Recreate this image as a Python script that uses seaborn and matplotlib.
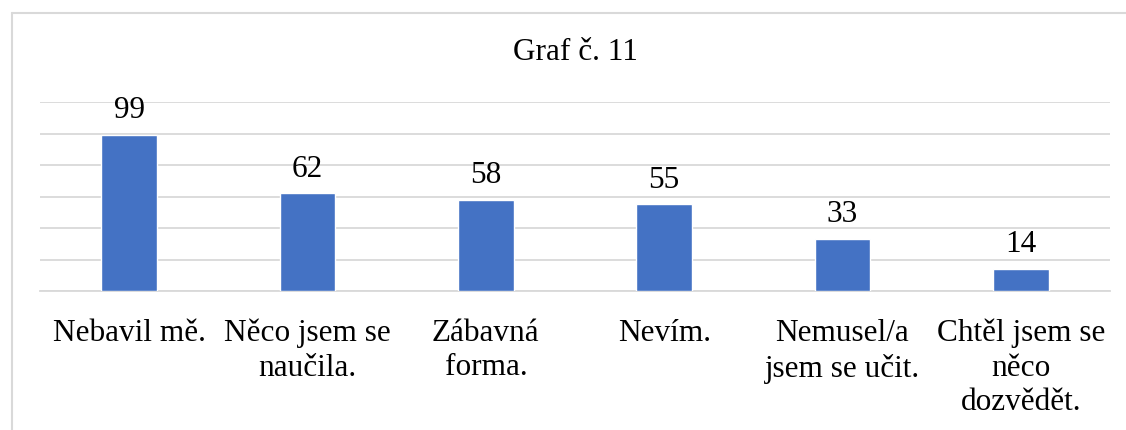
import matplotlib
matplotlib.use("Agg")
import matplotlib.pyplot as plt
import seaborn as sns
import pandas as pd
from matplotlib.lines import Line2D

categories = ["Nebavil mě.", "Něco jsem se\nnaučila.", "Zábavná\nforma.", "Nevím.",
              "Nemusel/a\njsem se učit.", "Chtěl jsem se\nněco\ndozvědět."]
values = [99, 62, 58, 55, 33, 14]
title = "Graf č. 11"

sns.set_theme(style="white")
plt.rcParams['font.family'] = ['Liberation Serif', 'DejaVu Serif']

W, H = 1126, 430
fig = plt.figure(figsize=(W / 100, H / 100), dpi=100)
ax = fig.add_axes([40 / W, (H - 291) / H, (1110 - 40) / W, (291 - 102) / H])

df = pd.DataFrame({"cat": categories, "val": values})
sns.barplot(data=df, x="cat", y="val", color="#4472C4", width=0.314, ax=ax,
            saturation=1, zorder=3)

FS = 22.5
ax.set_ylim(0, 120)
ax.set_xlim(-0.5, len(categories) - 0.5)
ax.set_yticks(range(0, 121, 20))
ax.yaxis.grid(True, color="#d9d9d9", linewidth=1.3, zorder=0)
ax.set_axisbelow(True)
ax.tick_params(axis="y", left=False, labelleft=False)
ax.tick_params(axis="x", bottom=False, labelsize=FS, pad=14, colors="black")
for lbl in ax.get_xticklabels():
    lbl.set_linespacing(1.25)
ax.set_xlabel("")
ax.set_ylabel("")
for s in ["top", "right", "left"]:
    ax.spines[s].set_visible(False)
ax.spines["bottom"].set_color("#d9d9d9")
ax.spines["bottom"].set_linewidth(1.3)

for i, v in enumerate(values):
    ax.annotate(str(v), (i, v), xytext=(0, 7), textcoords="offset points",
                ha="center", va="bottom", fontsize=FS, color="black")

fig.text(575 / W, 1 - 52 / H, title, ha="center", va="center", fontsize=FS, color="black")

# outer chart border (top and left edges visible)
bx, by = 11.5 / W, 1 - 12.5 / H
fig.add_artist(Line2D([bx, 1.0], [by, by], transform=fig.transFigure, color="#d9d9d9", linewidth=1.5))
fig.add_artist(Line2D([bx, bx], [0.0, by], transform=fig.transFigure, color="#d9d9d9", linewidth=1.5))

fig.savefig("out.png", dpi=100)
